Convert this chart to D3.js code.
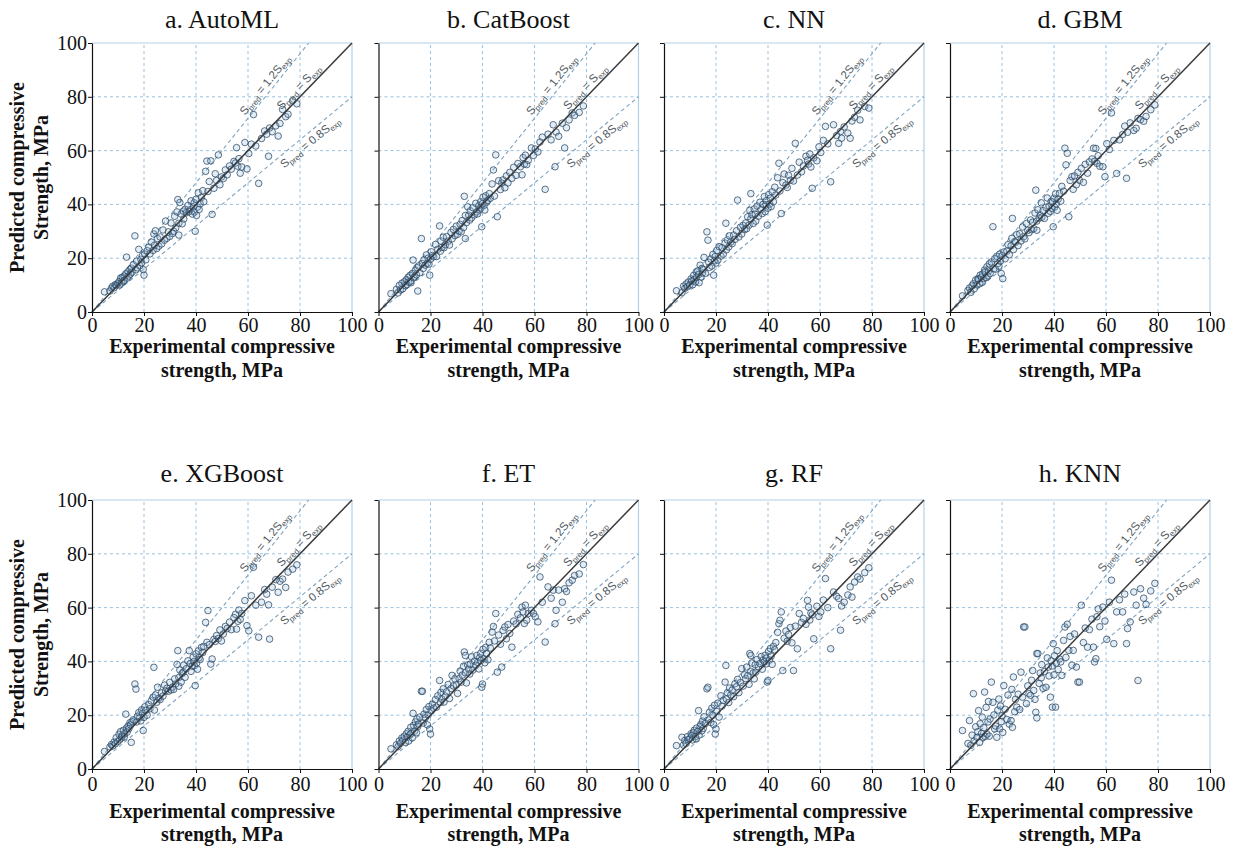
<!DOCTYPE html>
<html>
<head>
<meta charset="utf-8">
<script src="https://cdn.jsdelivr.net/npm/d3@7"></script>
<style>
  body { margin: 0; background: #fff; }
  svg { display: block; }
</style>
</head>
<body>
<svg id="fig" width="1234" height="855"></svg>
<script>
// Experimental compressive strength of the test specimens (MPa), shared by every model
const experimental = [
  4.8, 6.9, 7.5, 8.0, 8.5, 9.0, 9.3, 9.9, 10.4, 10.7,
  11.0, 11.4, 11.6, 12.1, 12.4, 12.5, 13.0, 13.3, 13.5, 13.9,
  14.2, 14.6, 14.8, 15.1, 15.4, 15.9, 16.5, 16.9, 17.2, 17.5,
  18.0, 18.4, 18.8, 19.1, 19.4, 19.7, 20.0, 20.3, 20.7, 21.2,
  21.9, 22.3, 22.8, 23.5, 23.8, 24.0, 24.4, 24.9, 25.2, 25.7,
  26.2, 26.8, 27.3, 27.9, 28.3, 28.8, 29.4, 29.9, 30.4, 31.0,
  31.4, 31.8, 32.2, 32.7, 33.0, 33.4, 33.4, 33.8, 34.3, 34.7,
  35.1, 35.3, 35.8, 36.3, 36.9, 37.4, 37.8, 38.1, 38.6, 38.9,
  39.3, 39.4, 39.7, 40.0, 40.2, 40.6, 40.9, 41.2, 41.6, 42.1,
  42.6, 43.0, 43.7, 44.2, 44.6, 45.1, 45.7, 46.2, 46.9, 47.4,
  47.9, 48.6, 49.2, 49.8, 50.5, 51.3, 52.0, 52.9, 53.6, 54.6,
  55.2, 55.6, 56.1, 56.5, 57.0, 57.6, 58.8, 59.6, 60.3, 61.3,
  62.1, 63.0, 64.1, 65.2, 66.4, 67.2, 67.9, 68.3, 69.3, 70.7,
  71.6, 72.3, 73.3, 74.5, 75.4, 77.2, 78.8
];

// Predicted compressive strength (MPa) for each model, same specimen order
const predAutoML = [
  7.5, 7.8, 8.9, 9.6, 9.0, 10.2, 9.8, 10.6, 11.3, 10.1,
  12.6, 10.8, 12.9, 11.4, 13.3, 11.8, 14.2, 20.4, 12.6, 15.0,
  13.4, 15.8, 14.1, 16.3, 14.8, 17.6, 28.3, 15.7, 18.9, 16.4,
  23.3, 17.2, 19.6, 18.3, 20.9, 15.8, 13.7, 21.6, 19.4, 22.8,
  24.1, 21.6, 26.0, 22.9, 29.0, 24.8, 30.2, 23.6, 27.3, 24.5,
  27.9, 25.3, 30.5, 26.7, 33.8, 27.4, 29.8, 28.1, 33.1, 29.2,
  30.0, 35.6, 31.3, 37.2, 41.8, 33.0, 28.6, 40.7, 36.4, 32.8,
  37.5, 34.6, 38.2, 36.9, 39.6, 37.3, 38.0, 41.3, 36.4, 39.0,
  40.6, 37.2, 30.0, 41.9, 35.9, 39.0, 44.3, 38.1, 40.2, 42.6,
  45.1, 41.0, 52.3, 56.1, 44.8, 48.5, 56.2, 36.3, 46.0, 51.4,
  48.9, 58.4, 47.3, 50.2, 49.6, 52.8, 51.0, 54.3, 53.1, 56.0,
  55.4, 61.1, 54.2, 57.0, 51.6, 53.9, 63.0, 53.2, 58.9, 62.4,
  73.4, 61.7, 47.8, 64.5, 67.3, 66.1, 57.9, 68.4, 67.0, 69.2,
  65.4, 70.1, 75.3, 72.6, 73.5, 78.6, 77.4
];
const predCatBoost = [
  6.8, 8.4, 7.1, 9.9, 8.2, 10.7, 8.6, 11.2, 9.8, 12.0,
  10.2, 12.9, 11.1, 13.6, 11.5, 10.9, 14.3, 19.3, 12.7, 13.1,
  15.6, 13.8, 16.5, 7.8, 17.1, 14.6, 27.3, 18.0, 16.2, 19.4,
  17.4, 21.2, 18.1, 20.0, 17.8, 13.7, 19.6, 22.4, 21.0, 20.5,
  25.1, 20.6, 23.3, 32.0, 22.6, 26.4, 24.0, 27.8, 23.9, 25.0,
  28.0, 26.3, 24.9, 29.6, 27.2, 30.7, 28.4, 31.9, 28.9, 30.1,
  32.6, 29.8, 34.0, 31.4, 43.0, 27.3, 35.9, 33.2, 39.1, 36.0,
  34.2, 37.6, 35.0, 38.8, 36.1, 40.4, 37.2, 36.5, 39.5, 38.0,
  41.0, 38.7, 31.7, 40.3, 42.7, 39.6, 37.9, 43.2, 40.8, 41.5,
  44.0, 42.3, 47.6, 52.8, 43.1, 58.4, 35.4, 48.8, 45.5, 47.9,
  49.1, 46.2, 50.6, 48.0, 51.9, 49.7, 53.8, 50.8, 55.2, 54.0,
  51.0, 57.4, 55.0, 58.3, 54.8, 56.4, 61.0, 58.2, 60.6, 59.5,
  63.2, 65.0, 45.6, 66.1, 64.0, 69.6, 54.0, 66.9, 65.3, 70.2,
  61.0, 68.5, 71.4, 74.0, 73.1, 74.2, 76.6
];
const predNN = [
  7.9, 7.2, 9.6, 8.8, 10.4, 9.4, 11.1, 10.0, 12.3, 11.6,
  10.1, 13.6, 12.0, 11.2, 14.9, 12.8, 15.3, 13.9, 10.9, 17.4,
  13.0, 16.2, 14.5, 15.8, 20.3, 14.4, 29.8, 26.7, 18.5, 16.6,
  19.7, 17.1, 21.4, 13.7, 19.0, 20.6, 18.2, 22.9, 19.3, 24.3,
  20.8, 23.9, 21.5, 25.6, 33.0, 23.1, 26.8, 24.2, 28.3, 26.0,
  25.4, 28.6, 27.0, 30.2, 41.6, 27.9, 31.5, 29.0, 32.2, 30.6,
  33.1, 31.0, 35.4, 32.3, 37.8, 44.0, 34.6, 36.2, 32.9, 38.3,
  36.4, 33.8, 39.4, 35.6, 40.8, 38.1, 36.6, 40.0, 42.9, 37.3,
  39.9, 41.4, 32.3, 38.6, 43.6, 40.1, 42.3, 39.2, 44.7, 41.0,
  46.4, 43.5, 49.9, 55.3, 45.0, 36.6, 48.1, 51.3, 47.2, 46.3,
  50.8, 49.0, 53.4, 48.7, 62.7, 50.9, 55.7, 52.1, 54.3, 57.9,
  56.4, 55.0, 58.7, 53.9, 46.0, 57.3, 56.2, 61.4, 59.3, 63.8,
  69.0, 62.5, 48.4, 69.6, 65.6, 62.7, 67.1, 64.6, 68.8, 66.5,
  64.6, 71.0, 72.4, 75.0, 71.4, 76.4, 75.8
];
const predGBM = [
  6.0, 8.0, 8.9, 7.3, 9.7, 10.5, 8.6, 11.9, 10.1, 12.4,
  12.2, 10.5, 13.7, 12.9, 11.0, 14.1, 12.4, 15.6, 14.9, 12.8,
  16.8, 13.4, 15.2, 17.9, 14.3, 18.6, 31.7, 16.1, 19.8, 15.9,
  20.7, 18.0, 17.0, 21.5, 18.9, 14.3, 20.9, 12.4, 22.3, 19.8,
  22.6, 25.0, 21.3, 24.6, 27.4, 34.8, 23.2, 26.2, 25.9, 28.8,
  24.7, 29.1, 26.4, 31.6, 28.0, 27.2, 32.9, 30.3, 29.5, 34.2,
  30.6, 33.4, 31.0, 36.8, 45.3, 33.8, 30.4, 38.0, 34.9, 36.1,
  40.6, 35.2, 37.7, 34.8, 38.9, 42.4, 36.7, 39.4, 37.4, 41.1,
  38.5, 40.9, 31.7, 42.3, 39.0, 43.9, 40.2, 37.8, 42.0, 44.1,
  41.2, 46.7, 44.9, 60.9, 54.7, 59.0, 35.4, 48.9, 50.3, 45.6,
  50.6, 47.3, 51.9, 49.0, 53.4, 48.2, 54.9, 51.6, 55.8, 56.9,
  60.9, 56.0, 60.8, 55.3, 58.1, 54.2, 54.0, 50.3, 62.6, 60.4,
  74.0, 63.8, 51.5, 64.0, 66.0, 69.1, 49.7, 66.8, 70.3, 67.5,
  68.3, 72.0, 71.5, 70.9, 72.7, 75.2, 77.0
];
const predXGBoost = [
  6.5, 8.2, 9.1, 8.6, 10.0, 9.4, 11.6, 10.2, 12.9, 10.9,
  13.9, 11.6, 12.4, 14.4, 11.9, 13.1, 20.4, 15.2, 13.7, 16.0,
  15.0, 17.2, 16.4, 9.9, 17.6, 18.3, 31.6, 29.7, 17.5, 19.6,
  21.0, 19.1, 17.9, 22.0, 20.6, 14.3, 19.2, 23.1, 21.8, 20.0,
  23.9, 22.4, 25.3, 26.7, 37.8, 21.9, 27.5, 24.8, 30.4, 26.3,
  25.8, 28.3, 27.1, 31.2, 29.0, 30.0, 28.9, 32.2, 29.4, 30.5,
  29.6, 33.5, 31.6, 38.9, 44.0, 34.0, 30.8, 36.8, 32.3, 35.5,
  36.0, 38.6, 34.1, 37.3, 40.2, 44.0, 39.2, 36.3, 38.2, 41.6,
  40.0, 38.4, 31.0, 42.8, 39.3, 37.1, 43.9, 41.4, 40.7, 45.2,
  43.3, 45.6, 54.5, 47.1, 58.9, 46.2, 39.0, 40.9, 48.2, 47.4,
  49.6, 48.5, 51.7, 47.6, 50.2, 53.0, 52.2, 54.6, 51.8, 56.3,
  57.5, 52.0, 54.9, 59.1, 55.6, 57.8, 62.6, 53.3, 51.4, 64.4,
  75.0, 60.9, 49.0, 62.0, 66.7, 65.0, 61.0, 48.3, 67.6, 70.4,
  65.7, 69.8, 70.6, 67.5, 73.2, 74.3, 75.9
];
const predET = [
  7.5, 9.0, 8.3, 10.4, 9.6, 11.5, 10.7, 12.2, 9.9, 13.1,
  11.8, 14.0, 10.4, 12.7, 15.5, 13.2, 11.6, 20.7, 16.2, 14.1,
  17.5, 13.5, 18.6, 15.8, 16.7, 19.3, 28.9, 28.9, 17.1, 20.4,
  19.0, 22.1, 16.4, 20.1, 23.2, 14.9, 13.0, 21.6, 24.1, 22.6,
  25.8, 23.0, 27.2, 32.9, 24.7, 28.5, 26.0, 29.8, 24.9, 27.1,
  28.7, 31.4, 26.2, 29.9, 34.8, 30.9, 33.5, 31.2, 28.1, 33.6,
  36.4, 32.3, 34.9, 38.2, 43.5, 42.2, 35.8, 32.0, 38.7, 37.1,
  35.3, 39.0, 41.7, 36.8, 40.1, 38.5, 42.2, 39.6, 37.2, 41.4,
  43.0, 40.3, 30.4, 31.6, 44.5, 41.0, 39.5, 45.2, 42.8, 40.6,
  47.1, 45.0, 50.9, 53.0, 47.6, 57.8, 36.0, 49.8, 46.4, 37.9,
  51.5, 52.8, 48.4, 53.7, 50.4, 45.3, 55.0, 53.9, 57.5, 56.2,
  60.2, 58.4, 54.1, 60.9, 55.3, 57.8, 59.0, 57.8, 56.6, 54.7,
  71.4, 62.0, 47.2, 67.7, 63.5, 66.5, 54.0, 59.0, 66.5, 62.0,
  67.0, 66.0, 69.2, 70.2, 71.9, 72.5, 76.0
];
const predRF = [
  8.7, 11.8, 8.9, 10.6, 9.5, 12.0, 10.9, 11.3, 13.1, 12.5,
  10.8, 13.6, 14.4, 12.0, 11.2, 15.2, 14.0, 21.7, 12.6, 15.9,
  16.6, 14.2, 17.8, 15.1, 19.4, 16.9, 29.8, 30.4, 18.2, 21.1,
  17.3, 22.6, 20.0, 16.5, 23.7, 13.0, 14.9, 21.4, 24.5, 19.3,
  27.2, 23.4, 25.5, 32.3, 38.5, 26.0, 28.4, 24.7, 30.1, 27.5,
  29.3, 26.9, 31.7, 30.6, 33.3, 28.4, 32.1, 37.3, 30.8, 35.0,
  33.6, 37.9, 34.7, 31.5, 42.9, 42.2, 36.3, 39.4, 35.7, 33.5,
  38.8, 36.0, 40.7, 37.9, 39.2, 41.8, 37.1, 40.5, 39.8, 42.3,
  41.2, 39.1, 32.3, 32.9, 43.7, 40.5, 44.8, 42.0, 38.9, 45.6,
  44.3, 47.0, 50.8, 54.0, 55.3, 58.4, 36.6, 48.6, 51.3, 47.5,
  50.0, 52.6, 46.9, 36.6, 53.1, 44.7, 57.8, 54.5, 56.0, 53.8,
  62.7, 60.2, 55.4, 58.0, 57.3, 48.4, 60.5, 56.7, 58.4, 62.8,
  70.8, 60.0, 44.7, 65.8, 64.2, 63.4, 51.6, 60.6, 62.0, 64.7,
  67.7, 63.9, 69.5, 71.4, 70.6, 73.0, 74.8
];
const predKNN = [
  14.3, 9.5, 18.0, 8.8, 12.6, 28.0, 10.4, 15.7, 11.8, 13.9,
  21.7, 9.9, 16.8, 13.2, 19.3, 11.8, 15.4, 28.6, 12.1, 22.9,
  13.0, 17.5, 25.1, 12.2, 18.6, 32.3, 24.8, 20.1, 14.9, 16.0,
  11.8, 21.9, 26.0, 14.9, 23.4, 17.6, 19.8, 13.6, 31.0, 22.2,
  18.4, 27.5, 16.7, 18.0, 29.6, 15.5, 34.2, 21.3, 25.9, 23.0,
  27.8, 22.1, 36.0, 26.7, 52.8, 52.8, 24.3, 30.9, 28.0, 27.4,
  33.0, 36.6, 29.2, 25.9, 21.1, 42.9, 19.0, 42.9, 31.8, 35.7,
  33.9, 38.8, 30.0, 36.2, 30.4, 41.3, 37.9, 34.6, 26.7, 40.2,
  38.3, 23.0, 46.6, 35.0, 42.1, 23.0, 39.4, 44.0, 37.0, 40.9,
  39.8, 34.8, 47.8, 52.8, 41.5, 53.8, 44.1, 49.3, 38.6, 44.1,
  50.2, 37.9, 32.3, 32.3, 60.9, 47.0, 52.4, 45.3, 51.8, 55.7,
  45.3, 39.8, 41.0, 56.6, 59.5, 52.9, 60.2, 55.0, 48.2, 62.0,
  70.2, 46.6, 58.4, 62.9, 58.4, 65.0, 46.6, 52.2, 54.7, 65.8,
  60.9, 32.9, 67.0, 63.5, 61.2, 66.2, 69.0
];

const panelTitles = ["a. AutoML", "b. CatBoost", "c. NN", "d. GBM",
                     "e. XGBoost", "f. ET", "g. RF", "h. KNN"];
const panelPreds = [predAutoML, predCatBoost, predNN, predGBM,
                    predXGBoost, predET, predRF, predKNN];
const tickValues = [0, 20, 40, 60, 80, 100];
const gridValues = [20, 40, 60, 80];
// Reference lines S_pred = k * S_exp, with the text of the coefficient
const refSlopes = [1.2, 1, 0.8];
const refCoeffText = ["1.2", "", "0.8"];
const xTitleLines = ["Experimental compressive", "strength, MPa"];
const yTitleLines = ["Predicted compressive", "Strength, MPa"];

// ---- layout ----
const colLeft = [92, 378.5, 664, 950];
const plotW = 260;
const rowsLayout = [
  { top: 43, bottom: 312, title: 28, tickPad: 2, xt1: 353, xt2: 377 },
  { top: 500, bottom: 769, title: 482, tickPad: 4, xt1: 818, xt2: 841 }
];
const serif = "'Liberation Serif', 'Times New Roman', serif";
const sans = "'Liberation Sans', Arial, sans-serif";
const gridColor = "#8fbbdc";
const frameColor = "#b3d0e6";

const svg = d3.select("#fig");
svg.append("rect").attr("width", 1234).attr("height", 855).attr("fill", "#fff");

panelTitles.forEach((title, i) => {
  const col = i % 4, row = Math.floor(i / 4);
  const lay = rowsLayout[row];
  const L = colLeft[col], R = L + plotW, T = lay.top, B = lay.bottom;
  const x = d3.scaleLinear().domain([0, 100]).range([L, R]);
  const y = d3.scaleLinear().domain([0, 100]).range([B, T]);
  const g = svg.append("g");

  // dashed grid
  g.selectAll(".gv").data(gridValues).join("line")
    .attr("x1", d => x(d)).attr("x2", d => x(d))
    .attr("y1", y(0)).attr("y2", y(100))
    .attr("stroke", gridColor).attr("stroke-width", 0.9)
    .attr("stroke-dasharray", "3,3");
  g.selectAll(".gh").data(gridValues).join("line")
    .attr("y1", d => y(d)).attr("y2", d => y(d))
    .attr("x1", x(0)).attr("x2", x(100))
    .attr("stroke", gridColor).attr("stroke-width", 0.9)
    .attr("stroke-dasharray", "3,3");

  // top and right frame
  g.append("line").attr("x1", x(0)).attr("x2", x(100)).attr("y1", y(100)).attr("y2", y(100))
    .attr("stroke", frameColor).attr("stroke-width", 1.2);
  g.append("line").attr("x1", x(100)).attr("x2", x(100)).attr("y1", y(0)).attr("y2", y(100))
    .attr("stroke", frameColor).attr("stroke-width", 1.2);

  // +/- 20 % reference lines (dashed)
  refSlopes.forEach(k => {
    if (k === 1) return;
    const xEnd = Math.min(100, 100 / k);
    g.append("line")
      .attr("x1", x(0)).attr("y1", y(0))
      .attr("x2", x(xEnd)).attr("y2", y(k * xEnd))
      .attr("stroke", "#7fa3bf").attr("stroke-width", 1.1)
      .attr("stroke-dasharray", "4,3");
  });

  // data points
  const preds = panelPreds[i];
  const pts = experimental.map((e, j) => [e, preds[j]]).filter(d => d[1] != null);
  g.selectAll("circle").data(pts).join("circle")
    .attr("cx", d => x(d[0])).attr("cy", d => y(d[1]))
    .attr("r", 3.3)
    .attr("fill", "rgba(140,185,220,0.25)")
    .attr("stroke", "#2b4763").attr("stroke-opacity", 0.8)
    .attr("stroke-width", 0.95);

  // 1:1 line
  g.append("line")
    .attr("x1", x(0)).attr("y1", y(0)).attr("x2", x(100)).attr("y2", y(100))
    .attr("stroke", "#3a3a3a").attr("stroke-width", 1.5);

  // line labels
  const labelSpec = [
    { k: 1.2, xs: 60, side: -1 },
    { k: 1, xs: 74, side: -1 },
    { k: 0.8, xs: 71, side: 1 }
  ];
  labelSpec.forEach(s => {
    const px = x(s.xs), py = y(s.k * s.xs);
    const ang = Math.atan(s.k * (B - T) / (R - L)) * 180 / Math.PI;
    const t = g.append("text")
      .attr("transform", `translate(${px},${py}) rotate(${-ang})`)
      .attr("y", s.side < 0 ? -4 : 12)
      .attr("font-family", sans).attr("font-size", 11.5)
      .attr("fill", "#4e5861");
    t.append("tspan").text("S");
    t.append("tspan").attr("font-size", 8).attr("dy", 2.5).text("pred");
    t.append("tspan").attr("dy", -2.5).text(" = " + refCoeffText[refSlopes.indexOf(s.k)] + "S");
    t.append("tspan").attr("font-size", 8).attr("dy", 2.5).text("exp");
  });

  // axes
  const yAxis = d3.axisLeft(y).tickValues(tickValues).tickSize(4).tickSizeOuter(0).tickPadding(1);
  if (col !== 0) yAxis.tickFormat("");
  const ya = g.append("g").attr("transform", `translate(${L},0)`).call(yAxis);
  const xAxis = d3.axisBottom(x).tickValues(tickValues).tickSize(4).tickSizeOuter(0).tickPadding(lay.tickPad);
  const xa = g.append("g").attr("transform", `translate(0,${B})`).call(xAxis);
  [ya, xa].forEach(a => {
    a.select(".domain").attr("stroke", "#111").attr("stroke-width", 1.2);
    a.selectAll(".tick line").attr("stroke", "#111");
    a.selectAll("text").attr("font-family", serif).attr("font-size", 20).attr("fill", "#111");
  });

  // panel title
  g.append("text").attr("x", (L + R) / 2).attr("y", lay.title)
    .attr("text-anchor", "middle").attr("font-family", serif)
    .attr("font-size", 26).attr("fill", "#111").text(title);

  // x-axis title
  [lay.xt1, lay.xt2].forEach((yy, k) => {
    g.append("text").attr("x", (L + R) / 2).attr("y", yy)
      .attr("text-anchor", "middle").attr("font-family", serif)
      .attr("font-weight", "bold").attr("font-size", 20).attr("fill", "#111")
      .text(xTitleLines[k]);
  });

  // y-axis title on the first column
  if (col === 0) {
    const cy = (T + B) / 2;
    [24, 48].forEach((xx, k) => {
      g.append("text")
        .attr("transform", `translate(${xx},${cy}) rotate(-90)`)
        .attr("text-anchor", "middle").attr("font-family", serif)
        .attr("font-weight", "bold").attr("font-size", 20).attr("fill", "#111")
        .text(yTitleLines[k]);
    });
  }
});
</script>
</body>
</html>
